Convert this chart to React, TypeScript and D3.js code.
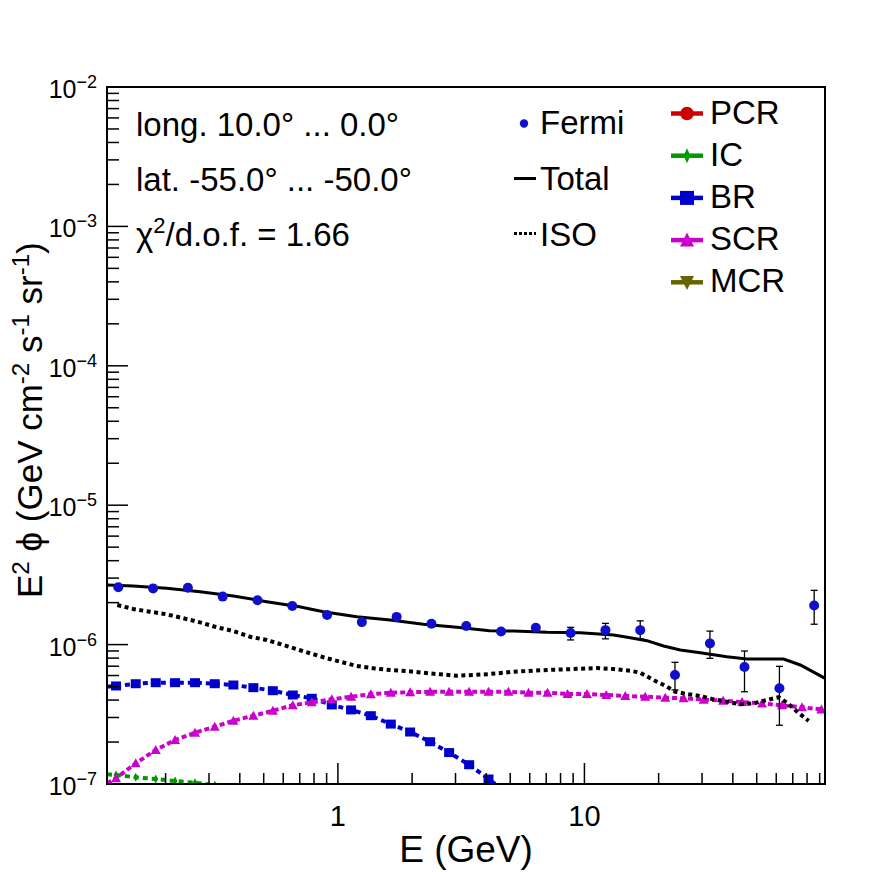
import React from 'react';
import * as d3 from 'd3';

// ---- data ----
const fermiE = [0.1286, 0.178, 0.2463, 0.341, 0.472, 0.653, 0.904, 1.251, 1.731, 2.396, 3.316, 4.59, 6.35, 8.79, 12.17, 16.84, 23.3, 32.3, 44.6, 61.8, 85.5];
const fermiFlux = [2.58e-6, 2.53e-6, 2.56e-6, 2.21e-6, 2.08e-6, 1.89e-6, 1.63e-6, 1.45e-6, 1.58e-6, 1.41e-6, 1.36e-6, 1.24e-6, 1.32e-6, 1.21e-6, 1.27e-6, 1.27e-6, 6.05e-7, 1.02e-6, 6.9e-7, 4.86e-7, 1.91e-6];
const fermiLo = [2.52e-6, 2.47e-6, 2.5e-6, 2.16e-6, 2.03e-6, 1.84e-6, 1.58e-6, 1.4e-6, 1.52e-6, 1.35e-6, 1.29e-6, 1.14e-6, 1.19e-6, 1.08e-6, 1.1e-6, 1.1e-6, 4.73e-7, 7.97e-7, 4.59e-7, 2.64e-7, 1.4e-6];
const fermiHi = [2.64e-6, 2.59e-6, 2.62e-6, 2.26e-6, 2.13e-6, 1.94e-6, 1.68e-6, 1.5e-6, 1.64e-6, 1.47e-6, 1.43e-6, 1.33e-6, 1.42e-6, 1.33e-6, 1.42e-6, 1.48e-6, 7.46e-7, 1.25e-6, 9.0e-7, 6.98e-7, 2.45e-6];

// model energy grid (first entry = lower axis edge, no marker there)
const modelE = [0.1157, 0.1259, 0.1513, 0.1824, 0.2185, 0.2633, 0.3165, 0.3767, 0.454, 0.5445, 0.6561, 0.7833, 0.9445, 1.131, 1.36, 1.639, 1.963, 2.366, 2.826, 3.407, 4.082, 4.92, 5.93, 7.08, 8.54, 10.24, 12.26, 14.64, 17.65, 21.28, 25.25, 30.47, 36.52, 43.62, 52.53, 63.32, 76.33, 91.4];
const brFlux = [4.99e-7, 5.05e-7, 5.24e-7, 5.33e-7, 5.33e-7, 5.33e-7, 5.24e-7, 5.13e-7, 4.91e-7, 4.67e-7, 4.35e-7, 4.12e-7, 3.69e-7, 3.4e-7, 3.09e-7, 2.69e-7, 2.36e-7, 2.01e-7, 1.68e-7, 1.375e-7, 1.086e-7, 8.5e-8];
const scrFlux = [1.01e-7, 1.099e-7, 1.408e-7, 1.754e-7, 2.068e-7, 2.334e-7, 2.576e-7, 2.844e-7, 3.09e-7, 3.356e-7, 3.67e-7, 3.855e-7, 4.05e-7, 4.23e-7, 4.4e-7, 4.52e-7, 4.55e-7, 4.59e-7, 4.59e-7, 4.59e-7, 4.59e-7, 4.59e-7, 4.52e-7, 4.52e-7, 4.42e-7, 4.42e-7, 4.35e-7, 4.28e-7, 4.23e-7, 4.16e-7, 4.12e-7, 4.03e-7, 3.96e-7, 3.87e-7, 3.79e-7, 3.67e-7, 3.55e-7, 3.43e-7];
const icFlux = [1.174e-7, 1.16e-7, 1.117e-7, 1.086e-7, 1.05e-7, 1.02e-7, 9.8e-8];

const isoE = [0.1274, 0.1479, 0.1729, 0.202, 0.236, 0.2759, 0.3225, 0.3766, 0.4401, 0.5145, 0.6009, 0.6978, 0.8733, 1.021, 1.193, 1.394, 1.629, 1.904, 2.223, 2.598, 3.038, 3.548, 4.12, 5.157, 7.045, 9.616, 11.24, 13.13, 15.34, 16.85, 19.07, 21.62, 23.36, 26.06, 29.51, 33.42, 37.85, 42.87, 48.55, 55.05, 61.34, 66.33, 72.85, 81.21];
const isoFlux = [1.923e-6, 1.8e-6, 1.722e-6, 1.649e-6, 1.545e-6, 1.445e-6, 1.331e-6, 1.252e-6, 1.139e-6, 1.079e-6, 9.93e-7, 9.15e-7, 8.11e-7, 7.54e-7, 7.02e-7, 6.76e-7, 6.57e-7, 6.46e-7, 6.28e-7, 6.12e-7, 5.98e-7, 6.05e-7, 6.15e-7, 6.39e-7, 6.57e-7, 6.71e-7, 6.79e-7, 6.68e-7, 6.5e-7, 6.28e-7, 5.57e-7, 4.99e-7, 4.59e-7, 4.42e-7, 4.28e-7, 4.05e-7, 3.89e-7, 3.73e-7, 3.79e-7, 4.01e-7, 4.19e-7, 3.83e-7, 3.3e-7, 2.84e-7];

const totalE = [0.1157, 0.1479, 0.202, 0.2759, 0.3766, 0.5145, 0.6978, 0.8733, 1.193, 1.629, 2.223, 3.038, 4.12, 5.157, 7.045, 9.616, 13.13, 15.34, 17.93, 20.94, 24.48, 29.51, 37.85, 45.65, 64.27, 75.1, 94.6];
const totalFlux = [2.677e-6, 2.63e-6, 2.535e-6, 2.396e-6, 2.232e-6, 2.032e-6, 1.871e-6, 1.722e-6, 1.585e-6, 1.502e-6, 1.398e-6, 1.331e-6, 1.258e-6, 1.252e-6, 1.225e-6, 1.217e-6, 1.172e-6, 1.121e-6, 1.067e-6, 9.77e-7, 9.15e-7, 8.75e-7, 8.19e-7, 7.88e-7, 7.88e-7, 7.14e-7, 5.73e-7];

const xMajorLabels = ['1', '10'];
const yExponents = ['-7', '-6', '-5', '-4', '-3', '-2'];
const infoLines = ['long. 10.0\u00b0 ... 0.0\u00b0', 'lat. -55.0\u00b0 ... -50.0\u00b0'];
const legendLeft = ['Fermi', 'Total', 'ISO'];
const legendRight = ['PCR', 'IC', 'BR', 'SCR', 'MCR'];
const legendRightColors = ['#cc0000', '#009900', '#0000cc', '#cc00cc', '#666600'];

const FONT = "'Liberation Sans', Arial, Helvetica, sans-serif";
const W = 896;
const H = 872;
const L = 107, R = 825, T = 87, B = 784;

function triUp(cx: number, cy: number, w: number, h: number) {
  return `M${cx},${cy - h * 0.55}L${cx + w / 2},${cy + h * 0.45}L${cx - w / 2},${cy + h * 0.45}Z`;
}
function triDown(cx: number, cy: number, w: number, h: number) {
  return `M${cx},${cy + h * 0.55}L${cx + w / 2},${cy - h * 0.45}L${cx - w / 2},${cy - h * 0.45}Z`;
}
function diamond(cx: number, cy: number, w: number, h: number) {
  return `M${cx},${cy - h / 2}L${cx + w / 2},${cy}L${cx},${cy + h / 2}L${cx - w / 2},${cy}Z`;
}

export default function App() {
  const x = d3.scaleLog().domain([0.1157, 94.6]).range([L, R]);
  const y = d3.scaleLog().domain([1e-7, 1e-2]).range([B, T]);

  const mkLine = (es: number[], vs: number[]) =>
    d3.line<number>().x((_, i) => x(es[i])).y((v) => y(v))(vs) || '';

  const xTicks = x.ticks(30).filter((t) => t >= 0.1157 && t <= 94.6);
  const yTicks = y.ticks(60);
  const isMajor = (t: number) => Math.abs(Math.log10(t) - Math.round(Math.log10(t))) < 1e-6;

  const xMajor = xTicks.filter(isMajor);
  const yMajor = yTicks.filter(isMajor);

  const legendRowY = (i: number) => 113.5 + i * 42.2;

  return (
    <svg width={W} height={H} style={{ position: 'absolute', left: 0, top: 0, background: '#fff' }} fontFamily={FONT}>
      <rect x={0} y={0} width={W} height={H} fill="#fff" />
      <defs>
        <clipPath id="plot">
          <rect x={L} y={T} width={R - L} height={B - T} />
        </clipPath>
      </defs>

      <g clipPath="url(#plot)">
        {/* IC */}
        <path d={mkLine(modelE, icFlux)} fill="none" stroke="#009900" strokeWidth={4} strokeDasharray="5 4" />
        {icFlux.map((v, i) => i > 0 ? (
          <path key={'ic' + i} d={diamond(x(modelE[i]), y(v), 5, 9)} fill="#009900" />
        ) : null)}
        {/* BR */}
        <path d={mkLine(modelE, brFlux)} fill="none" stroke="#0000cc" strokeWidth={4} strokeDasharray="5 4" />
        {brFlux.map((v, i) => i > 0 ? (
          <rect key={'br' + i} x={x(modelE[i]) - 5} y={y(v) - 4.5} width={10} height={9} fill="#0000cc" />
        ) : null)}
        {/* SCR */}
        <path d={mkLine(modelE, scrFlux)} fill="none" stroke="#cc00cc" strokeWidth={4} strokeDasharray="5 3" />
        {scrFlux.map((v, i) => i > 0 ? (
          <path key={'scr' + i} d={triUp(x(modelE[i]), y(v), 10, 9)} fill="#cc00cc" />
        ) : null)}
        {/* ISO */}
        <path d={mkLine(isoE, isoFlux)} fill="none" stroke="#000" strokeWidth={4} strokeDasharray="4 3.5" />
        {/* Total */}
        <path d={mkLine(totalE, totalFlux)} fill="none" stroke="#000" strokeWidth={3} />
        {/* Fermi */}
        {fermiE.map((e, i) => {
          const cx = x(e);
          const big = y(fermiLo[i]) - y(fermiHi[i]) > 12;
          return (
            <g key={'f' + i}>
              {big && (
                <g stroke="#000" strokeWidth={1.3}>
                  <line x1={cx} x2={cx} y1={y(fermiLo[i])} y2={y(fermiHi[i])} />
                  <line x1={cx - 3.5} x2={cx + 3.5} y1={y(fermiLo[i])} y2={y(fermiLo[i])} />
                  <line x1={cx - 3.5} x2={cx + 3.5} y1={y(fermiHi[i])} y2={y(fermiHi[i])} />
                </g>
              )}
              <circle cx={cx} cy={y(fermiFlux[i])} r={5} fill="#1010cc" />
            </g>
          );
        })}
      </g>

      {/* frame */}
      <rect x={L} y={T} width={R - L} height={B - T} fill="none" stroke="#000" strokeWidth={2} />

      {/* x ticks */}
      {xTicks.map((t, i) => (
        <line key={'xt' + i} x1={x(t)} x2={x(t)} y1={B} y2={B - (isMajor(t) ? 21 : 11)} stroke="#000" strokeWidth={1.5} />
      ))}
      {xMajor.map((t, i) => (
        <text key={'xl' + i} x={x(t)} y={826} fontSize={29} textAnchor="middle">{xMajorLabels[i]}</text>
      ))}
      {/* y ticks */}
      {yTicks.map((t, i) => (
        <line key={'yt' + i} x1={L} x2={L + (isMajor(t) ? 21 : 12)} y1={y(t)} y2={y(t)} stroke="#000" strokeWidth={1.5} />
      ))}
      {yMajor.map((t, i) => (
        <text key={'yl' + i} x={97} y={y(t) + 11} fontSize={25} textAnchor="end">
          10<tspan fontSize={18} dy={-10}>{'\u2212' + yExponents[i].slice(1)}</tspan>
        </text>
      ))}

      {/* axis titles */}
      <text x={466} y={862} fontSize={37} textAnchor="middle">E (GeV)</text>
      <text transform="translate(42,598) rotate(-90)" fontSize={35} textAnchor="start">
        E<tspan fontSize={24} dy={-13}>2</tspan>
        <tspan dy={13}> {'\u03d5'} (GeV cm</tspan>
        <tspan fontSize={24} dy={-13}>-2</tspan>
        <tspan dy={13}> s</tspan>
        <tspan fontSize={24} dy={-13}>-1</tspan>
        <tspan dy={13}> sr</tspan>
        <tspan fontSize={24} dy={-13}>-1</tspan>
        <tspan dy={13}>)</tspan>
      </text>

      {/* info text */}
      <text x={136} y={135.5} fontSize={33}>{infoLines[0]}</text>
      <text x={136} y={190.5} fontSize={33}>{infoLines[1]}</text>
      <text x={136} y={246} fontSize={33}>
        {'\u03c7'}<tspan fontSize={22} dy={-13}>2</tspan><tspan dy={13}>/d.o.f. = 1.66</tspan>
      </text>

      {/* left legend */}
      <circle cx={524} cy={123.5} r={4.2} fill="#1010cc" />
      <line x1={514} x2={536} y1={178.5} y2={178.5} stroke="#000" strokeWidth={3} />
      <line x1={514} x2={536} y1={233.5} y2={233.5} stroke="#000" strokeWidth={3} strokeDasharray="3 2" />
      {legendLeft.map((s, i) => (
        <text key={'ll' + i} x={540} y={134 + i * 56} fontSize={33}>{s}</text>
      ))}

      {/* right legend */}
      {legendRight.map((s, i) => {
        const ly = legendRowY(i);
        const c = legendRightColors[i];
        const cx = 687;
        let marker: React.ReactNode = null;
        if (i === 0) marker = <circle cx={cx} cy={ly} r={6.8} fill={c} />;
        if (i === 1) marker = <path d={diamond(cx, ly, 7, 15)} fill={c} />;
        if (i === 2) marker = <rect x={cx - 7} y={ly - 7} width={14} height={14} fill={c} />;
        if (i === 3) marker = <path d={triUp(cx, ly, 14, 14)} fill={c} />;
        if (i === 4) marker = <path d={triDown(cx, ly, 14, 14)} fill={c} />;
        return (
          <g key={'lr' + i}>
            <line x1={671} x2={703} y1={ly} y2={ly} stroke={c} strokeWidth={4.5} />
            {marker}
            <text x={710} y={ly + 10} fontSize={33}>{s}</text>
          </g>
        );
      })}
    </svg>
  );
}
